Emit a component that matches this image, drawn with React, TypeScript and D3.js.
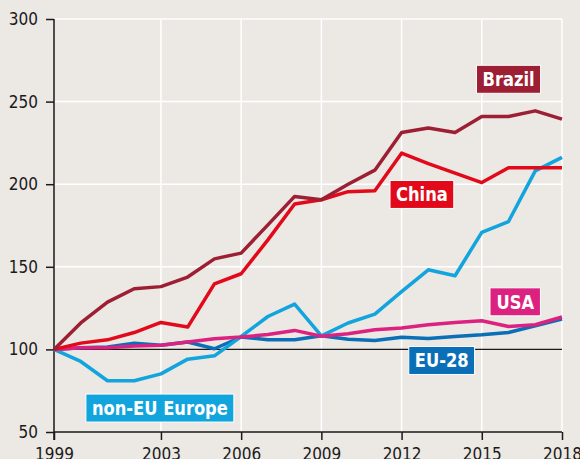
import * as d3 from "d3";
import React, { useEffect, useRef } from "react";

const years = d3.range(1999, 2019);
const brazil = [100, 116, 128.6, 136.7, 138, 143.8, 154.8, 158.3, 175.4, 192.6, 190.6, 200, 208.5, 231.3, 234, 231.3, 241, 241, 244.4, 239.4];
const china = [100, 103.8, 105.8, 110.2, 116.3, 113.5, 139.7, 145.8, 166.3, 188, 190.6, 195.5, 196, 218.8, 212.5, 206.7, 201, 210, 210, 210];
const nonEU = [100, 92.7, 81, 81, 85.2, 94.1, 96.1, 107.8, 119.9, 127.4, 108.2, 116, 121.4, 135, 148.2, 144.6, 170.8, 177.4, 208.1, 216.2];
const eu28 = [100, 101, 101.5, 103.8, 102.5, 104.5, 100.4, 107.5, 105.8, 105.8, 108.2, 106.2, 105.4, 107.4, 106.6, 107.8, 108.8, 110.2, 114.3, 118.3];
const usa = [100, 101, 101, 102, 102.5, 104.5, 106.5, 107.5, 109, 111.5, 108, 109.5, 111.9, 113, 114.9, 116.3, 117.3, 113.9, 114.9, 119.6];

const yTicks = [50, 100, 150, 200, 250, 300];
const xTicks = [1999, 2003, 2006, 2009, 2012, 2015, 2018];

const series = [
  { name: "EU-28", values: eu28, color: "#0a6fb6", label: [2013.5, 93.3] },
  { name: "non-EU Europe", values: nonEU, color: "#12a4dc", label: [2002.96, 64.5] },
  { name: "USA", values: usa, color: "#dc2281", label: [2016.25, 128.8] },
  { name: "China", values: china, color: "#e20a1a", label: [2012.76, 193.8] },
  { name: "Brazil", values: brazil, color: "#9c1f33", label: [2016.0, 263.5] },
];

const width = 580;
const height = 459;
const margin = { left: 54, top: 19, right: 18, bottom: 27 };
const font = "'Liberation Sans Narrow', 'DejaVu Sans Condensed', Roboto, sans-serif";

const App = () => {
  const ref = useRef<SVGSVGElement>(null);

  useEffect(() => {
    const svg = d3.select(ref.current);
    svg.selectAll("*").remove();

    const chartWidth = width - margin.left - margin.right;
    const chartHeight = height - margin.top - margin.bottom;

    const x = d3.scaleLinear().domain([1999, 2018]).range([0, chartWidth]);
    const y = d3.scaleLinear().domain([50, 300]).range([chartHeight, 0]);

    svg.append("rect").attr("width", width).attr("height", height).attr("fill", "#ece8e4");

    const g = svg.append("g").attr("transform", `translate(${margin.left} ${margin.top})`);

    // grid
    g.selectAll(".hgrid")
      .data(yTicks.filter((d) => d > 100))
      .join("line")
      .attr("x1", 0)
      .attr("x2", chartWidth)
      .attr("y1", (d) => y(d))
      .attr("y2", (d) => y(d))
      .attr("stroke", "#fff")
      .attr("stroke-width", 1.5);

    g.selectAll(".vgrid")
      .data(xTicks.slice(1))
      .join("line")
      .attr("x1", (d) => x(d))
      .attr("x2", (d) => x(d))
      .attr("y1", 0)
      .attr("y2", chartHeight)
      .attr("stroke", "#fff")
      .attr("stroke-width", 1.5);

    // baseline at 100
    g.append("line")
      .attr("x1", 0)
      .attr("x2", chartWidth)
      .attr("y1", y(100))
      .attr("y2", y(100))
      .attr("stroke", "#1a1a1a")
      .attr("stroke-width", 1.3);

    // axes
    const yAxis = d3.axisLeft(y).tickValues(yTicks).tickSize(8).tickPadding(8);
    const yAxisG = g.append("g").call(yAxis);
    yAxisG.select(".domain").remove();
    yAxisG.selectAll("line").attr("stroke", "#1a1a1a").attr("stroke-width", 1.5);
    yAxisG
      .selectAll("text")
      .attr("fill", "#1a1a1a")
      .style("font-family", font)
      .style("font-size", "17px");

    const xAxis = d3.axisBottom(x).tickValues(xTicks).tickFormat(d3.format("d")).tickSize(8).tickPadding(8);
    const xAxisG = g.append("g").attr("transform", `translate(0, ${chartHeight})`).call(xAxis);
    xAxisG.select(".domain").remove();
    xAxisG.selectAll("line").attr("stroke", "#1a1a1a").attr("stroke-width", 1.5);
    xAxisG
      .selectAll("text")
      .attr("fill", "#1a1a1a")
      .style("font-family", font)
      .style("font-size", "17px");

    g.append("line")
      .attr("x1", 0)
      .attr("x2", chartWidth)
      .attr("y1", chartHeight)
      .attr("y2", chartHeight)
      .attr("stroke", "#1a1a1a")
      .attr("stroke-width", 1.5);
    g.append("line")
      .attr("x1", 0)
      .attr("x2", 0)
      .attr("y1", 0)
      .attr("y2", chartHeight + 8)
      .attr("stroke", "#1a1a1a")
      .attr("stroke-width", 1.5);

    // lines
    const line = d3
      .line<number>()
      .x((d, i) => x(years[i]))
      .y((d) => y(d));

    series.forEach((s) => {
      g.append("path")
        .attr("d", line(s.values))
        .attr("fill", "none")
        .attr("stroke", s.color)
        .attr("stroke-width", 3.5)
        .attr("stroke-linejoin", "round");
    });

    // labels
    const sx = 0.93;
    series.forEach((s) => {
      const lg = g.append("g").attr("transform", `translate(${x(s.label[0])} ${y(s.label[1])})`);
      const rect = lg.append("rect");
      const t = lg
        .append("text")
        .attr("text-anchor", "middle")
        .attr("dy", "0.36em")
        .attr("transform", `scale(${sx} 1)`)
        .attr("fill", "#fff")
        .style("font-family", font)
        .style("font-weight", "bold")
        .style("font-size", "19.5px")
        .text(s.name);
      const bw = (t.node() as SVGTextElement).getBBox().width * sx;
      const padX = 6;
      const h = 28;
      rect
        .attr("x", -bw / 2 - padX)
        .attr("y", -h / 2)
        .attr("width", bw + padX * 2)
        .attr("height", h)
        .attr("fill", s.color)
        .attr("stroke", "#fff")
        .attr("stroke-width", 1);
    });
  }, []);

  return (
    <svg ref={ref} width={width} height={height} style={{ position: "absolute", left: 0, top: 0 }}></svg>
  );
};

export default App;
